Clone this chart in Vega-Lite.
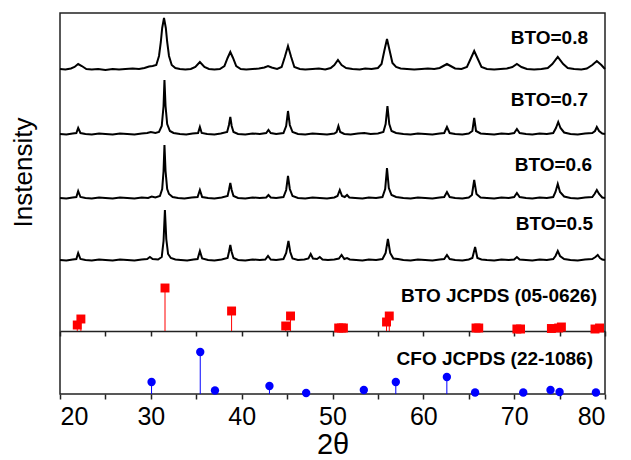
{
"$schema": "https://vega.github.io/schema/vega-lite/v6.json",
"width": 545,
"height": 381,
"autosize": {"type": "none"},
"padding": {"left": 60, "top": 13, "right": 26, "bottom": 66},
"background": "white",
"title": {"text": "Instensity", "orient": "left", "anchor": "middle", "frame": "group", "fontSize": 26, "fontWeight": "normal", "color": "black", "font": "Liberation Sans", "baseline": "alphabetic", "offset": 0, "dx": 31, "dy": 2},
"config": {"font": "Liberation Sans", "view": {"stroke": "#222", "strokeWidth": 1.5}},
"resolve": {"axis": {"x": "independent"}},
"datasets": {
"xrd": [
{"s":"0.8","x":20.0,"y":325},{"s":"0.8","x":20.6,"y":324.5},{"s":"0.8","x":21.2,"y":325.5},{"s":"0.8","x":21.6,"y":327},{"s":"0.8","x":22.0,"y":330},{"s":"0.8","x":22.4,"y":328},{"s":"0.8","x":22.9,"y":325},{"s":"0.8","x":23.5,"y":324.5},{"s":"0.8","x":24.2,"y":325},{"s":"0.8","x":25.0,"y":324},{"s":"0.8","x":25.8,"y":325},{"s":"0.8","x":26.5,"y":324.5},{"s":"0.8","x":27.2,"y":325},{"s":"0.8","x":28.0,"y":325.5},{"s":"0.8","x":28.7,"y":325},{"s":"0.8","x":29.3,"y":326},{"s":"0.8","x":29.8,"y":327.5},{"s":"0.8","x":30.2,"y":328},{"s":"0.8","x":30.6,"y":329},{"s":"0.8","x":30.9,"y":338},{"s":"0.8","x":31.1,"y":352},{"s":"0.8","x":31.25,"y":366},{"s":"0.8","x":31.45,"y":376},{"s":"0.8","x":31.65,"y":366},{"s":"0.8","x":31.8,"y":352},{"s":"0.8","x":32.0,"y":338},{"s":"0.8","x":32.3,"y":329},{"s":"0.8","x":32.7,"y":326},{"s":"0.8","x":33.2,"y":325},{"s":"0.8","x":33.8,"y":324.5},{"s":"0.8","x":34.4,"y":325},{"s":"0.8","x":34.9,"y":327},{"s":"0.8","x":35.4,"y":332},{"s":"0.8","x":35.9,"y":327},{"s":"0.8","x":36.4,"y":325},{"s":"0.8","x":37.0,"y":324.5},{"s":"0.8","x":37.6,"y":325},{"s":"0.8","x":38.1,"y":328},{"s":"0.8","x":38.45,"y":336},{"s":"0.8","x":38.75,"y":342},{"s":"0.8","x":39.05,"y":336},{"s":"0.8","x":39.4,"y":328},{"s":"0.8","x":39.9,"y":325},{"s":"0.8","x":40.5,"y":324.5},{"s":"0.8","x":41.2,"y":325},{"s":"0.8","x":41.9,"y":325.5},{"s":"0.8","x":42.5,"y":326.5},{"s":"0.8","x":42.9,"y":328},{"s":"0.8","x":43.3,"y":326.5},{"s":"0.8","x":43.9,"y":325},{"s":"0.8","x":44.4,"y":327},{"s":"0.8","x":44.75,"y":337},{"s":"0.8","x":45.1,"y":348},{"s":"0.8","x":45.45,"y":337},{"s":"0.8","x":45.8,"y":327},{"s":"0.8","x":46.4,"y":325},{"s":"0.8","x":47.0,"y":324.5},{"s":"0.8","x":47.8,"y":325},{"s":"0.8","x":48.5,"y":325.5},{"s":"0.8","x":49.2,"y":324.5},{"s":"0.8","x":49.8,"y":326},{"s":"0.8","x":50.2,"y":329},{"s":"0.8","x":50.6,"y":334},{"s":"0.8","x":51.0,"y":329},{"s":"0.8","x":51.5,"y":326},{"s":"0.8","x":52.2,"y":325},{"s":"0.8","x":53.0,"y":324.5},{"s":"0.8","x":53.6,"y":325.5},{"s":"0.8","x":54.3,"y":325},{"s":"0.8","x":55.0,"y":326},{"s":"0.8","x":55.4,"y":330},{"s":"0.8","x":55.7,"y":343},{"s":"0.8","x":56.0,"y":355},{"s":"0.8","x":56.3,"y":343},{"s":"0.8","x":56.6,"y":331},{"s":"0.8","x":57.0,"y":327},{"s":"0.8","x":57.5,"y":325.5},{"s":"0.8","x":58.2,"y":325},{"s":"0.8","x":59.0,"y":324.5},{"s":"0.8","x":59.8,"y":325},{"s":"0.8","x":60.5,"y":325.5},{"s":"0.8","x":61.2,"y":325},{"s":"0.8","x":61.8,"y":326},{"s":"0.8","x":62.2,"y":328},{"s":"0.8","x":62.6,"y":330},{"s":"0.8","x":63.0,"y":328},{"s":"0.8","x":63.5,"y":325.5},{"s":"0.8","x":64.2,"y":325},{"s":"0.8","x":64.8,"y":327},{"s":"0.8","x":65.2,"y":335},{"s":"0.8","x":65.6,"y":343},{"s":"0.8","x":66.0,"y":335},{"s":"0.8","x":66.4,"y":327},{"s":"0.8","x":67.0,"y":325},{"s":"0.8","x":67.8,"y":324.5},{"s":"0.8","x":68.5,"y":325},{"s":"0.8","x":69.2,"y":325.5},{"s":"0.8","x":69.8,"y":327},{"s":"0.8","x":70.3,"y":330},{"s":"0.8","x":70.8,"y":327},{"s":"0.8","x":71.4,"y":325},{"s":"0.8","x":72.2,"y":324.5},{"s":"0.8","x":73.0,"y":325},{"s":"0.8","x":73.7,"y":326},{"s":"0.8","x":74.2,"y":330},{"s":"0.8","x":74.8,"y":337},{"s":"0.8","x":75.4,"y":330},{"s":"0.8","x":75.9,"y":326},{"s":"0.8","x":76.6,"y":325},{"s":"0.8","x":77.4,"y":324.5},{"s":"0.8","x":78.0,"y":325.5},{"s":"0.8","x":78.6,"y":329},{"s":"0.8","x":79.1,"y":333},{"s":"0.8","x":79.6,"y":329},{"s":"0.8","x":80.0,"y":325},
{"s":"0.7","x":20.0,"y":260},{"s":"0.7","x":20.7,"y":259.5},{"s":"0.7","x":21.4,"y":260.5},{"s":"0.7","x":21.8,"y":261},{"s":"0.7","x":22.0,"y":266},{"s":"0.7","x":22.25,"y":261},{"s":"0.7","x":22.8,"y":260},{"s":"0.7","x":23.5,"y":259.5},{"s":"0.7","x":24.3,"y":260.5},{"s":"0.7","x":25.0,"y":260},{"s":"0.7","x":25.8,"y":259.5},{"s":"0.7","x":26.6,"y":260.5},{"s":"0.7","x":27.4,"y":260},{"s":"0.7","x":28.2,"y":259.5},{"s":"0.7","x":29.0,"y":260.5},{"s":"0.7","x":29.6,"y":261},{"s":"0.7","x":30.0,"y":262},{"s":"0.7","x":30.5,"y":261},{"s":"0.7","x":30.9,"y":262},{"s":"0.7","x":31.2,"y":268},{"s":"0.7","x":31.4,"y":288},{"s":"0.7","x":31.5,"y":314},{"s":"0.7","x":31.62,"y":288},{"s":"0.7","x":31.8,"y":270},{"s":"0.7","x":32.1,"y":263},{"s":"0.7","x":32.5,"y":261},{"s":"0.7","x":33.2,"y":260},{"s":"0.7","x":33.9,"y":259.5},{"s":"0.7","x":34.6,"y":260.5},{"s":"0.7","x":35.2,"y":261},{"s":"0.7","x":35.4,"y":267},{"s":"0.7","x":35.6,"y":261},{"s":"0.7","x":36.2,"y":260},{"s":"0.7","x":37.0,"y":259.5},{"s":"0.7","x":37.7,"y":260.5},{"s":"0.7","x":38.4,"y":262},{"s":"0.7","x":38.6,"y":269},{"s":"0.7","x":38.75,"y":277},{"s":"0.7","x":38.9,"y":268},{"s":"0.7","x":39.1,"y":262},{"s":"0.7","x":39.6,"y":260},{"s":"0.7","x":40.4,"y":259.5},{"s":"0.7","x":41.2,"y":260.5},{"s":"0.7","x":42.0,"y":260},{"s":"0.7","x":42.7,"y":261},{"s":"0.7","x":42.95,"y":264},{"s":"0.7","x":43.2,"y":261},{"s":"0.7","x":43.8,"y":260},{"s":"0.7","x":44.6,"y":261},{"s":"0.7","x":44.9,"y":268},{"s":"0.7","x":45.1,"y":283},{"s":"0.7","x":45.3,"y":269},{"s":"0.7","x":45.6,"y":262},{"s":"0.7","x":46.2,"y":260},{"s":"0.7","x":47.0,"y":259.5},{"s":"0.7","x":47.8,"y":260.5},{"s":"0.7","x":48.6,"y":260},{"s":"0.7","x":49.4,"y":259.5},{"s":"0.7","x":50.2,"y":260.5},{"s":"0.7","x":50.45,"y":262},{"s":"0.7","x":50.65,"y":268},{"s":"0.7","x":50.85,"y":262},{"s":"0.7","x":51.3,"y":260},{"s":"0.7","x":52.0,"y":259.5},{"s":"0.7","x":52.8,"y":260.5},{"s":"0.7","x":53.5,"y":261},{"s":"0.7","x":54.2,"y":260},{"s":"0.7","x":55.0,"y":260.5},{"s":"0.7","x":55.6,"y":262},{"s":"0.7","x":55.85,"y":270},{"s":"0.7","x":56.05,"y":288},{"s":"0.7","x":56.25,"y":270},{"s":"0.7","x":56.5,"y":263},{"s":"0.7","x":57.0,"y":261},{"s":"0.7","x":57.8,"y":260},{"s":"0.7","x":58.6,"y":259.5},{"s":"0.7","x":59.4,"y":260.5},{"s":"0.7","x":60.2,"y":260},{"s":"0.7","x":61.0,"y":259.5},{"s":"0.7","x":61.8,"y":260.5},{"s":"0.7","x":62.3,"y":261},{"s":"0.7","x":62.6,"y":267},{"s":"0.7","x":62.9,"y":261},{"s":"0.7","x":63.5,"y":260},{"s":"0.7","x":64.3,"y":259.5},{"s":"0.7","x":65.0,"y":260.5},{"s":"0.7","x":65.4,"y":263},{"s":"0.7","x":65.6,"y":276},{"s":"0.7","x":65.8,"y":263},{"s":"0.7","x":66.3,"y":260.5},{"s":"0.7","x":67.0,"y":260},{"s":"0.7","x":67.8,"y":259.5},{"s":"0.7","x":68.6,"y":260.5},{"s":"0.7","x":69.4,"y":260},{"s":"0.7","x":70.0,"y":261},{"s":"0.7","x":70.3,"y":265},{"s":"0.7","x":70.6,"y":261},{"s":"0.7","x":71.3,"y":260},{"s":"0.7","x":72.0,"y":259.5},{"s":"0.7","x":72.8,"y":260.5},{"s":"0.7","x":73.6,"y":260},{"s":"0.7","x":74.3,"y":261},{"s":"0.7","x":74.6,"y":266},{"s":"0.7","x":74.85,"y":272},{"s":"0.7","x":75.1,"y":266},{"s":"0.7","x":75.5,"y":261.5},{"s":"0.7","x":76.2,"y":260},{"s":"0.7","x":77.0,"y":259.5},{"s":"0.7","x":77.8,"y":260.5},{"s":"0.7","x":78.6,"y":261},{"s":"0.7","x":78.9,"y":263},{"s":"0.7","x":79.1,"y":267},{"s":"0.7","x":79.35,"y":263},{"s":"0.7","x":79.7,"y":260.5},{"s":"0.7","x":80.0,"y":260},
{"s":"0.6","x":20.0,"y":196},{"s":"0.6","x":20.7,"y":195.5},{"s":"0.6","x":21.4,"y":196.5},{"s":"0.6","x":21.8,"y":197},{"s":"0.6","x":22.0,"y":203},{"s":"0.6","x":22.25,"y":197},{"s":"0.6","x":22.8,"y":196},{"s":"0.6","x":23.5,"y":195.5},{"s":"0.6","x":24.3,"y":196.5},{"s":"0.6","x":25.0,"y":196},{"s":"0.6","x":25.8,"y":195.5},{"s":"0.6","x":26.6,"y":196.5},{"s":"0.6","x":27.4,"y":196},{"s":"0.6","x":28.2,"y":195.5},{"s":"0.6","x":29.0,"y":196.5},{"s":"0.6","x":29.7,"y":196},{"s":"0.6","x":30.1,"y":197.5},{"s":"0.6","x":30.5,"y":196.5},{"s":"0.6","x":31.0,"y":198},{"s":"0.6","x":31.25,"y":205},{"s":"0.6","x":31.4,"y":223},{"s":"0.6","x":31.5,"y":249},{"s":"0.6","x":31.62,"y":223},{"s":"0.6","x":31.8,"y":205},{"s":"0.6","x":32.0,"y":200},{"s":"0.6","x":32.4,"y":197},{"s":"0.6","x":33.0,"y":196},{"s":"0.6","x":33.7,"y":195.5},{"s":"0.6","x":34.5,"y":196.5},{"s":"0.6","x":35.15,"y":197},{"s":"0.6","x":35.4,"y":204},{"s":"0.6","x":35.65,"y":197},{"s":"0.6","x":36.3,"y":196},{"s":"0.6","x":37.0,"y":195.5},{"s":"0.6","x":37.8,"y":196.5},{"s":"0.6","x":38.45,"y":198},{"s":"0.6","x":38.6,"y":204},{"s":"0.6","x":38.75,"y":211},{"s":"0.6","x":38.9,"y":204},{"s":"0.6","x":39.1,"y":198},{"s":"0.6","x":39.6,"y":196},{"s":"0.6","x":40.4,"y":195.5},{"s":"0.6","x":41.2,"y":196.5},{"s":"0.6","x":42.0,"y":196},{"s":"0.6","x":42.7,"y":196.5},{"s":"0.6","x":42.95,"y":199},{"s":"0.6","x":43.2,"y":196.5},{"s":"0.6","x":43.8,"y":196},{"s":"0.6","x":44.6,"y":197},{"s":"0.6","x":44.9,"y":204},{"s":"0.6","x":45.1,"y":218},{"s":"0.6","x":45.3,"y":205},{"s":"0.6","x":45.6,"y":198},{"s":"0.6","x":46.2,"y":196},{"s":"0.6","x":47.0,"y":195.5},{"s":"0.6","x":47.8,"y":196.5},{"s":"0.6","x":48.6,"y":196},{"s":"0.6","x":49.4,"y":195.5},{"s":"0.6","x":50.2,"y":196.5},{"s":"0.6","x":50.55,"y":198},{"s":"0.6","x":50.8,"y":204},{"s":"0.6","x":51.05,"y":198},{"s":"0.6","x":51.35,"y":197},{"s":"0.6","x":51.6,"y":199},{"s":"0.6","x":51.85,"y":196.5},{"s":"0.6","x":52.5,"y":196},{"s":"0.6","x":53.3,"y":195.5},{"s":"0.6","x":54.0,"y":196.5},{"s":"0.6","x":54.8,"y":196},{"s":"0.6","x":55.5,"y":197},{"s":"0.6","x":55.8,"y":205},{"s":"0.6","x":56.0,"y":226},{"s":"0.6","x":56.2,"y":206},{"s":"0.6","x":56.5,"y":199},{"s":"0.6","x":57.0,"y":197},{"s":"0.6","x":57.8,"y":196},{"s":"0.6","x":58.6,"y":195.5},{"s":"0.6","x":59.4,"y":196.5},{"s":"0.6","x":60.2,"y":196},{"s":"0.6","x":61.0,"y":195.5},{"s":"0.6","x":61.8,"y":196.5},{"s":"0.6","x":62.3,"y":197},{"s":"0.6","x":62.6,"y":202},{"s":"0.6","x":62.9,"y":197},{"s":"0.6","x":63.5,"y":196},{"s":"0.6","x":64.3,"y":195.5},{"s":"0.6","x":65.0,"y":196.5},{"s":"0.6","x":65.35,"y":199},{"s":"0.6","x":65.6,"y":214},{"s":"0.6","x":65.85,"y":200},{"s":"0.6","x":66.3,"y":196.5},{"s":"0.6","x":67.0,"y":196},{"s":"0.6","x":67.8,"y":195.5},{"s":"0.6","x":68.6,"y":196.5},{"s":"0.6","x":69.4,"y":196},{"s":"0.6","x":70.0,"y":197},{"s":"0.6","x":70.3,"y":201},{"s":"0.6","x":70.6,"y":197},{"s":"0.6","x":71.3,"y":196},{"s":"0.6","x":72.0,"y":195.5},{"s":"0.6","x":72.8,"y":196.5},{"s":"0.6","x":73.6,"y":196},{"s":"0.6","x":74.3,"y":197},{"s":"0.6","x":74.55,"y":202},{"s":"0.6","x":74.8,"y":210},{"s":"0.6","x":75.05,"y":202},{"s":"0.6","x":75.5,"y":197.5},{"s":"0.6","x":76.2,"y":196},{"s":"0.6","x":77.0,"y":195.5},{"s":"0.6","x":77.8,"y":196.5},{"s":"0.6","x":78.6,"y":197},{"s":"0.6","x":78.85,"y":200},{"s":"0.6","x":79.1,"y":204},{"s":"0.6","x":79.35,"y":200},{"s":"0.6","x":79.7,"y":196.5},{"s":"0.6","x":80.0,"y":196},
{"s":"0.5","x":20.0,"y":134},{"s":"0.5","x":20.7,"y":133.5},{"s":"0.5","x":21.4,"y":134.5},{"s":"0.5","x":21.8,"y":135},{"s":"0.5","x":22.0,"y":141},{"s":"0.5","x":22.25,"y":135},{"s":"0.5","x":22.8,"y":134},{"s":"0.5","x":23.5,"y":133.5},{"s":"0.5","x":24.3,"y":134.5},{"s":"0.5","x":25.0,"y":134},{"s":"0.5","x":25.8,"y":133.5},{"s":"0.5","x":26.6,"y":134.5},{"s":"0.5","x":27.4,"y":134},{"s":"0.5","x":28.2,"y":133.5},{"s":"0.5","x":29.0,"y":134.5},{"s":"0.5","x":29.6,"y":135},{"s":"0.5","x":29.9,"y":137},{"s":"0.5","x":30.2,"y":135},{"s":"0.5","x":30.8,"y":134.5},{"s":"0.5","x":31.2,"y":137},{"s":"0.5","x":31.4,"y":153},{"s":"0.5","x":31.55,"y":184},{"s":"0.5","x":31.7,"y":155},{"s":"0.5","x":31.9,"y":140},{"s":"0.5","x":32.2,"y":136},{"s":"0.5","x":32.7,"y":134.5},{"s":"0.5","x":33.3,"y":134},{"s":"0.5","x":34.0,"y":133.5},{"s":"0.5","x":34.7,"y":134.5},{"s":"0.5","x":35.15,"y":135},{"s":"0.5","x":35.4,"y":143},{"s":"0.5","x":35.65,"y":135.5},{"s":"0.5","x":36.3,"y":134},{"s":"0.5","x":37.0,"y":133.5},{"s":"0.5","x":37.8,"y":134.5},{"s":"0.5","x":38.45,"y":136},{"s":"0.5","x":38.6,"y":142},{"s":"0.5","x":38.75,"y":149},{"s":"0.5","x":38.9,"y":142},{"s":"0.5","x":39.1,"y":136},{"s":"0.5","x":39.6,"y":134},{"s":"0.5","x":40.4,"y":133.5},{"s":"0.5","x":41.2,"y":134.5},{"s":"0.5","x":42.0,"y":134},{"s":"0.5","x":42.6,"y":134.5},{"s":"0.5","x":42.9,"y":138},{"s":"0.5","x":43.2,"y":134.5},{"s":"0.5","x":43.8,"y":134},{"s":"0.5","x":44.6,"y":135},{"s":"0.5","x":44.9,"y":141},{"s":"0.5","x":45.15,"y":153},{"s":"0.5","x":45.35,"y":142},{"s":"0.5","x":45.6,"y":135.5},{"s":"0.5","x":46.2,"y":134},{"s":"0.5","x":46.9,"y":134.5},{"s":"0.5","x":47.35,"y":135.5},{"s":"0.5","x":47.6,"y":140},{"s":"0.5","x":47.85,"y":135.5},{"s":"0.5","x":48.3,"y":135},{"s":"0.5","x":48.6,"y":137},{"s":"0.5","x":48.9,"y":134.5},{"s":"0.5","x":49.5,"y":134},{"s":"0.5","x":50.2,"y":134.5},{"s":"0.5","x":50.7,"y":135.5},{"s":"0.5","x":51.0,"y":139},{"s":"0.5","x":51.3,"y":135},{"s":"0.5","x":51.6,"y":136},{"s":"0.5","x":51.9,"y":134.5},{"s":"0.5","x":52.6,"y":134},{"s":"0.5","x":53.3,"y":133.5},{"s":"0.5","x":54.0,"y":134.5},{"s":"0.5","x":54.8,"y":134},{"s":"0.5","x":55.5,"y":135},{"s":"0.5","x":55.85,"y":141},{"s":"0.5","x":56.1,"y":155},{"s":"0.5","x":56.35,"y":141},{"s":"0.5","x":56.7,"y":135.5},{"s":"0.5","x":57.2,"y":135},{"s":"0.5","x":57.8,"y":134},{"s":"0.5","x":58.6,"y":133.5},{"s":"0.5","x":59.4,"y":134.5},{"s":"0.5","x":60.2,"y":134},{"s":"0.5","x":61.0,"y":133.5},{"s":"0.5","x":61.8,"y":134.5},{"s":"0.5","x":62.3,"y":135},{"s":"0.5","x":62.6,"y":139},{"s":"0.5","x":62.9,"y":135},{"s":"0.5","x":63.5,"y":134},{"s":"0.5","x":64.3,"y":133.5},{"s":"0.5","x":65.0,"y":134.5},{"s":"0.5","x":65.4,"y":136},{"s":"0.5","x":65.7,"y":147},{"s":"0.5","x":65.95,"y":136},{"s":"0.5","x":66.4,"y":134.5},{"s":"0.5","x":67.0,"y":134},{"s":"0.5","x":67.8,"y":133.5},{"s":"0.5","x":68.6,"y":134.5},{"s":"0.5","x":69.4,"y":134},{"s":"0.5","x":70.0,"y":134.5},{"s":"0.5","x":70.3,"y":137},{"s":"0.5","x":70.6,"y":134.5},{"s":"0.5","x":71.3,"y":134},{"s":"0.5","x":72.0,"y":133.5},{"s":"0.5","x":72.8,"y":134.5},{"s":"0.5","x":73.6,"y":134},{"s":"0.5","x":74.3,"y":135},{"s":"0.5","x":74.55,"y":138},{"s":"0.5","x":74.8,"y":143},{"s":"0.5","x":75.05,"y":138},{"s":"0.5","x":75.5,"y":135},{"s":"0.5","x":76.2,"y":134},{"s":"0.5","x":77.0,"y":133.5},{"s":"0.5","x":77.8,"y":134.5},{"s":"0.5","x":78.6,"y":135},{"s":"0.5","x":78.95,"y":137},{"s":"0.5","x":79.2,"y":139},{"s":"0.5","x":79.45,"y":136},{"s":"0.5","x":79.7,"y":134.5},{"s":"0.5","x":80.0,"y":134}
],
"bto": [
{"x":21.9,"h":69},{"x":22.3,"h":75},{"x":31.56,"h":106},{"x":38.89,"h":83},{"x":44.85,"h":68},{"x":45.38,"h":78},{"x":50.68,"h":66},{"x":50.98,"h":66},{"x":51.2,"h":66},{"x":55.95,"h":72},{"x":56.25,"h":78},{"x":65.8,"h":66},{"x":66.1,"h":66},{"x":70.3,"h":65},{"x":70.7,"h":65},{"x":74.1,"h":65.5},{"x":74.9,"h":66},{"x":75.2,"h":67},{"x":78.9,"h":65},{"x":79.4,"h":66}
],
"cfo": [
{"x":30.08,"h":12},{"x":35.44,"h":42},{"x":37.06,"h":3.5},{"x":43.06,"h":8},{"x":47.1,"h":1},{"x":53.45,"h":4},{"x":56.97,"h":12},{"x":62.59,"h":17},{"x":65.7,"h":1.5},{"x":71.0,"h":1.5},{"x":74.0,"h":4},{"x":75.0,"h":2},{"x":79.0,"h":1.5}
],
"lab": [
{"t":"BTO=0.8","x":78.13,"y":356},{"t":"BTO=0.7","x":78.13,"y":294},{"t":"BTO=0.6","x":78.57,"y":229},{"t":"BTO=0.5","x":78.68,"y":170},{"t":"BTO JCPDS (05-0626)","x":79.12,"y":98},{"t":"CFO JCPDS (22-1086)","x":78.68,"y":35}
]
},
"layer": [
{"data": {"name": "xrd"},
 "mark": {"type": "line", "color": "black", "strokeWidth": 2},
 "encoding": {
  "x": {"field": "x", "type": "quantitative", "scale": {"domain": [20, 80], "nice": false, "zero": false},
   "axis": {"values": [20,25,30,35,40,45,50,55,60,65,70,75,80], "labelExpr": "datum.value % 10 === 0 ? datum.label : ''", "labelFontSize": 25, "labelColor": "black", "labelPadding": 5, "tickSize": 5, "tickWidth": 1.5, "tickColor": "#222", "domain": false, "grid": false, "title": "2θ", "titleFontSize": 29, "titleFontWeight": "normal", "titleColor": "black", "titlePadding": 1}},
  "y": {"field": "y", "type": "quantitative", "scale": {"domain": [0, 381], "nice": false, "zero": false}, "axis": null},
  "detail": {"field": "s"}
 }},
{"data": {"name": "bto"},
 "mark": {"type": "rule", "color": "#ff0000", "strokeWidth": 1},
 "encoding": {
  "x": {"field": "x", "type": "quantitative",
   "axis": {"orient": "bottom", "offset": -63, "values": [20,25,30,35,40,45,50,55,60,65,70,75,80], "labels": false, "tickSize": 5, "tickWidth": 1.5, "tickColor": "#222", "domain": true, "domainColor": "#222", "domainWidth": 1.5, "grid": false, "title": null}},
  "y": {"field": "h", "type": "quantitative", "axis": null},
  "y2": {"datum": 63}
 }},
{"data": {"name": "bto"},
 "mark": {"type": "point", "shape": "square", "filled": true, "color": "#ff0000", "size": 80, "opacity": 1},
 "encoding": {
  "x": {"field": "x", "type": "quantitative", "axis": null},
  "y": {"field": "h", "type": "quantitative", "axis": null}
 }},
{"data": {"name": "cfo"},
 "mark": {"type": "rule", "color": "#0000ff", "strokeWidth": 1},
 "encoding": {
  "x": {"field": "x", "type": "quantitative", "axis": null},
  "y": {"field": "h", "type": "quantitative", "axis": null},
  "y2": {"datum": 0}
 }},
{"data": {"name": "cfo"},
 "mark": {"type": "point", "shape": "circle", "filled": true, "color": "#0000ff", "size": 70, "opacity": 1},
 "encoding": {
  "x": {"field": "x", "type": "quantitative", "axis": null},
  "y": {"field": "h", "type": "quantitative", "axis": null}
 }},
{"data": {"name": "lab"},
 "mark": {"type": "text", "align": "right", "baseline": "middle", "fontSize": 19, "fontWeight": "bold", "color": "black"},
 "encoding": {
  "x": {"field": "x", "type": "quantitative", "axis": null},
  "y": {"field": "y", "type": "quantitative", "axis": null},
  "text": {"field": "t"}
 }}
]
}
